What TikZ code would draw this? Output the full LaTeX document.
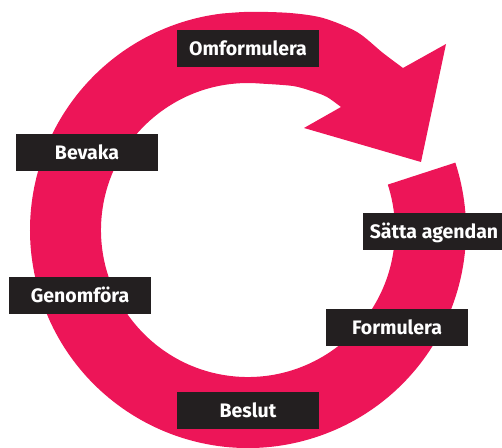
\documentclass[tikz,border=0pt]{standalone}
\usepackage{fontspec}
\setmainfont{Fira Sans}
\definecolor{ringpink}{RGB}{237,21,88}
\definecolor{boxblack}{RGB}{35,31,32}
\begin{document}
\begin{tikzpicture}[x=1pt,y=1pt,
stage/.style={
% The box:
rectangle,
fill=boxblack,
text=white,
minimum width=142pt,
minimum height=36.7pt,
inner sep=0pt,
text height=14pt,
text depth=0pt,
font=\bfseries\fontsize{19.5}{19.5}\selectfont
},
ring/.style={
fill=ringpink
}
]
\useasboundingbox (0,0) rectangle (502,447);
\coordinate (c) at (248,217);
% the circular arrow
\fill[ring] ([shift={(18:218)}]c) arc[start angle=18, end angle=-263, radius=218]
  -- plot[smooth, tension=0.5] coordinates {(221.4,433.4) (250,435.2) (290,434) (323,429) (357,415) (383,394) (403,379)}
  -- (446,403) -- (421,285) -- (304,319) -- (341,340)
  -- plot[smooth, tension=0.5] coordinates {(341,340) (327,350) (313,355.5) (293,361) (260.8,363.4)}
  arc[start angle=85, end angle=378, radius=147] -- cycle;
% the stages
\node (omform) [stage] at (248,398.7) {Omformulera};
\node (bevaka) [stage] at (87,294.7) {Bevaka};
\node (agenda) [stage] at (434,215.7) {Sätta agendan};
\node (genom) [stage] at (80,151.5) {Genomföra};
\node (formul) [stage] at (397,119.5) {Formulera};
\node (beslut) [stage] at (248,36.5) {Beslut};
\end{tikzpicture}
\end{document}
